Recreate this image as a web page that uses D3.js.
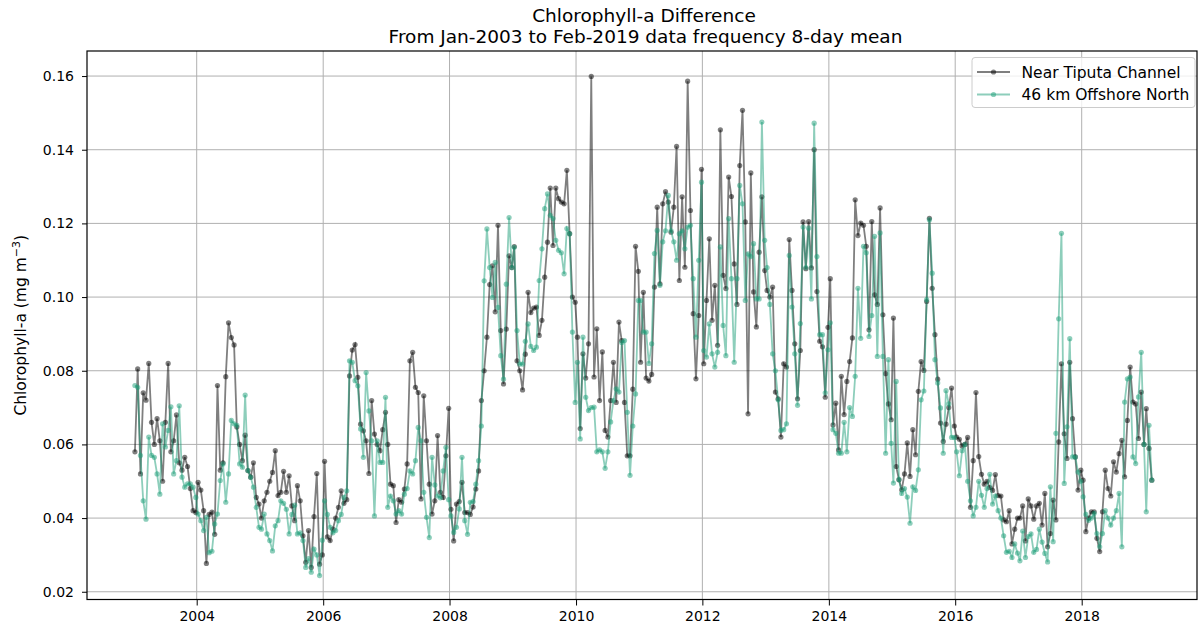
<!DOCTYPE html>
<html>
<head>
<meta charset="utf-8">
<script src="https://cdn.jsdelivr.net/npm/d3@7"></script>
<style>
  body { margin: 0; background: #fff; }
  text { font-family: "DejaVu Sans", sans-serif; fill: #000; }
</style>
</head>
<body>
<svg id="chart" width="1199" height="626"></svg>
<script>
// one row per year, samples every 16 days starting Jan 9
var years = [2003, 2004, 2005, 2006, 2007, 2008, 2009, 2010, 2011, 2012, 2013, 2014, 2015, 2016, 2017, 2018, 2019];

var nearTiputa = [
  [0.058, 0.0805, 0.052, 0.074, 0.072, 0.082, 0.066, 0.060, 0.067, 0.061, 0.050, 0.066, 0.082, 0.058, 0.061, 0.068, 0.055, 0.053, 0.0565, 0.054, 0.048, 0.042, 0.0415],
  [0.0497, 0.0476, 0.042, 0.0277, 0.041, 0.0416, 0.0356, 0.076, 0.053, 0.055, 0.0784, 0.093, 0.089, 0.087, 0.0647, 0.060, 0.0556, 0.0625, 0.0529, 0.0511, 0.055, 0.0456, 0.0438],
  [0.040, 0.0447, 0.047, 0.050, 0.0524, 0.0583, 0.0461, 0.047, 0.0527, 0.047, 0.0515, 0.0433, 0.0393, 0.0488, 0.0447, 0.0352, 0.028, 0.0366, 0.0266, 0.0404, 0.0521, 0.0275, 0.030],
  [0.0554, 0.0349, 0.0339, 0.037, 0.040, 0.0429, 0.0474, 0.044, 0.045, 0.0786, 0.0856, 0.0871, 0.0782, 0.0655, 0.0637, 0.061, 0.0521, 0.0719, 0.0628, 0.060, 0.0583, 0.064, 0.0687],
  [0.060, 0.0492, 0.0488, 0.0388, 0.045, 0.0443, 0.0479, 0.0547, 0.0827, 0.085, 0.0755, 0.0741, 0.0452, 0.0732, 0.061, 0.0492, 0.0411, 0.0447, 0.0624, 0.047, 0.0456, 0.0569, 0.0698],
  [0.0424, 0.0338, 0.0438, 0.0445, 0.0497, 0.0415, 0.0415, 0.041, 0.043, 0.0479, 0.0528, 0.0719, 0.080, 0.0891, 0.1034, 0.1085, 0.096, 0.1195, 0.0909, 0.0764, 0.0913, 0.1112, 0.108],
  [0.1137, 0.0827, 0.080, 0.0748, 0.0845, 0.1013, 0.0958, 0.097, 0.0973, 0.0896, 0.0937, 0.1054, 0.1149, 0.1296, 0.114, 0.1296, 0.1267, 0.1258, 0.1253, 0.1344, 0.1172, 0.100, 0.0986],
  [0.0891, 0.0643, 0.0846, 0.078, 0.0873, 0.1599, 0.0783, 0.0914, 0.0719, 0.0851, 0.0638, 0.062, 0.0719, 0.0823, 0.0714, 0.0932, 0.0882, 0.0714, 0.0569, 0.0569, 0.075, 0.1138, 0.107],
  [0.0823, 0.1013, 0.078, 0.0772, 0.079, 0.1027, 0.1244, 0.1036, 0.1253, 0.1286, 0.1258, 0.1176, 0.1244, 0.1409, 0.1045, 0.1272, 0.1081, 0.1586, 0.1235, 0.0955, 0.0778, 0.095, 0.1347],
  [0.0819, 0.0991, 0.1158, 0.0937, 0.1032, 0.0869, 0.1454, 0.1059, 0.1023, 0.1326, 0.1273, 0.109, 0.098, 0.1357, 0.1507, 0.1204, 0.0683, 0.1337, 0.1014, 0.0919, 0.1122, 0.1272, 0.1072],
  [0.1018, 0.100, 0.1027, 0.0742, 0.0724, 0.062, 0.0819, 0.081, 0.1156, 0.1018, 0.0873, 0.0724, 0.0855, 0.1204, 0.1077, 0.1205, 0.1079, 0.14, 0.1015, 0.088, 0.0865, 0.0728, 0.0918],
  [0.105, 0.0653, 0.0712, 0.0585, 0.0785, 0.0681, 0.0771, 0.0825, 0.0889, 0.1264, 0.1167, 0.1201, 0.1195, 0.1138, 0.0911, 0.1205, 0.1006, 0.098, 0.1242, 0.0952, 0.0792, 0.071, 0.0667],
  [0.0943, 0.054, 0.0504, 0.0477, 0.052, 0.0604, 0.0513, 0.064, 0.0572, 0.0744, 0.0825, 0.0801, 0.0988, 0.1214, 0.1024, 0.0898, 0.0777, 0.0658, 0.0608, 0.0655, 0.070, 0.0753, 0.065],
  [0.062, 0.0614, 0.0596, 0.060, 0.0619, 0.0429, 0.0556, 0.0741, 0.0567, 0.0519, 0.0492, 0.050, 0.0483, 0.0475, 0.0518, 0.0461, 0.046, 0.0395, 0.039, 0.042, 0.033, 0.037, 0.040],
  [0.040, 0.0433, 0.0338, 0.0452, 0.0433, 0.0397, 0.0433, 0.044, 0.0381, 0.0467, 0.0322, 0.0358, 0.0449, 0.0395, 0.0607, 0.0819, 0.0629, 0.0562, 0.0823, 0.067, 0.0566, 0.0476, 0.053],
  [0.0503, 0.0363, 0.040, 0.0417, 0.0417, 0.0345, 0.0309, 0.0417, 0.053, 0.048, 0.046, 0.0553, 0.0525, 0.0575, 0.0611, 0.0512, 0.0665, 0.081, 0.0715, 0.071, 0.0616, 0.0742, 0.060],
  [0.0697, 0.0589, 0.0503]
];

var offshoreNorth = [
  [0.076, 0.0755, 0.057, 0.0447, 0.0397, 0.062, 0.057, 0.0565, 0.052, 0.0465, 0.0656, 0.0593, 0.0638, 0.0702, 0.052, 0.0556, 0.0705, 0.0511, 0.0484, 0.0493, 0.0493, 0.0484, 0.0456],
  [0.0411, 0.0393, 0.0366, 0.0402, 0.0306, 0.031, 0.0384, 0.0411, 0.0502, 0.0547, 0.0443, 0.052, 0.0665, 0.0656, 0.0652, 0.0547, 0.0538, 0.0734, 0.0529, 0.0511, 0.0484, 0.0429, 0.0375],
  [0.037, 0.0411, 0.0357, 0.0339, 0.0311, 0.0379, 0.0393, 0.0447, 0.044, 0.0424, 0.0357, 0.041, 0.0435, 0.0357, 0.036, 0.0339, 0.0266, 0.029, 0.0253, 0.0316, 0.030, 0.0244, 0.034],
  [0.0447, 0.041, 0.0375, 0.036, 0.0366, 0.0393, 0.041, 0.0456, 0.0474, 0.0827, 0.0823, 0.0773, 0.0759, 0.0642, 0.0565, 0.0795, 0.0691, 0.061, 0.0406, 0.061, 0.0551, 0.0551, 0.0728],
  [0.0429, 0.046, 0.0447, 0.0411, 0.042, 0.0411, 0.0465, 0.048, 0.0528, 0.052, 0.0556, 0.0646, 0.061, 0.047, 0.0402, 0.0347, 0.0565, 0.049, 0.046, 0.0455, 0.0528, 0.0592, 0.045],
  [0.0406, 0.0361, 0.0375, 0.0425, 0.0565, 0.0393, 0.0356, 0.0443, 0.0445, 0.0492, 0.0556, 0.065, 0.1044, 0.1185, 0.108, 0.0999, 0.1094, 0.0972, 0.0841, 0.0777, 0.1035, 0.1216, 0.108],
  [0.1135, 0.0909, 0.0818, 0.0818, 0.088, 0.0927, 0.0866, 0.0855, 0.0864, 0.1045, 0.1131, 0.124, 0.128, 0.1222, 0.1213, 0.1154, 0.1127, 0.112, 0.1063, 0.1186, 0.1172, 0.0905, 0.0714],
  [0.0823, 0.0615, 0.0891, 0.0728, 0.0692, 0.070, 0.0701, 0.058, 0.0585, 0.058, 0.0535, 0.058, 0.0661, 0.0719, 0.0751, 0.0742, 0.0877, 0.0882, 0.0687, 0.0516, 0.065, 0.0737, 0.0991],
  [0.0991, 0.0905, 0.0905, 0.082, 0.0873, 0.1118, 0.1181, 0.1032, 0.115, 0.118, 0.1276, 0.118, 0.115, 0.11, 0.1172, 0.118, 0.1131, 0.119, 0.1195, 0.105, 0.0891, 0.11, 0.1312],
  [0.0855, 0.0837, 0.0927, 0.0846, 0.081, 0.085, 0.1136, 0.0923, 0.0841, 0.1213, 0.105, 0.0823, 0.105, 0.1303, 0.1253, 0.0991, 0.1117, 0.111, 0.1145, 0.0995, 0.0995, 0.1475, 0.1154],
  [0.108, 0.098, 0.0846, 0.080, 0.0721, 0.0638, 0.064, 0.0656, 0.1113, 0.0973, 0.0846, 0.0706, 0.0928, 0.119, 0.108, 0.1187, 0.0995, 0.1472, 0.111, 0.0898, 0.0898, 0.074, 0.0857],
  [0.093, 0.064, 0.063, 0.0576, 0.0576, 0.066, 0.058, 0.070, 0.0676, 0.0785, 0.1024, 0.0888, 0.1138, 0.112, 0.0893, 0.095, 0.1165, 0.0839, 0.1174, 0.0839, 0.0576, 0.083, 0.0603],
  [0.0495, 0.0771, 0.0505, 0.0467, 0.048, 0.0457, 0.0386, 0.0485, 0.0475, 0.0531, 0.0721, 0.0745, 0.0993, 0.121, 0.1065, 0.083, 0.0767, 0.0699, 0.0576, 0.0746, 0.071, 0.0619, 0.0619],
  [0.058, 0.0515, 0.0583, 0.060, 0.050, 0.0447, 0.0406, 0.0429, 0.050, 0.0462, 0.0429, 0.048, 0.0519, 0.0438, 0.046, 0.042, 0.040, 0.0352, 0.0307, 0.031, 0.0293, 0.033, 0.0305],
  [0.0284, 0.0365, 0.0293, 0.035, 0.0357, 0.0307, 0.0315, 0.037, 0.0335, 0.0304, 0.0281, 0.0485, 0.0336, 0.063, 0.0941, 0.1173, 0.0494, 0.0648, 0.0887, 0.0566, 0.0566, 0.0525, 0.050],
  [0.0458, 0.041, 0.0394, 0.040, 0.0413, 0.0358, 0.0322, 0.0358, 0.042, 0.040, 0.0381, 0.040, 0.042, 0.0467, 0.0322, 0.0715, 0.0778, 0.0783, 0.0566, 0.0548, 0.0729, 0.085, 0.06],
  [0.0417, 0.0652, 0.0503]
];

var seriesNames = ['Near Tiputa Channel', '46 km Offshore North'];
var seriesColors = ['#000000', '#1b9e77'];
var xTickYears = [2004, 2006, 2008, 2010, 2012, 2014, 2016, 2018];
var yTicks = [0.02, 0.04, 0.06, 0.08, 0.10, 0.12, 0.14, 0.16];

var margin = { left: 87, right: 1197, top: 51, bottom: 599.5 };

function toPoints(rows) {
  var pts = [];
  rows.forEach(function(row, yi) {
    row.forEach(function(v, i) {
      pts.push({ date: new Date(years[yi], 0, 9 + 16 * i), value: v });
    });
  });
  return pts;
}

var series = [toPoints(nearTiputa), toPoints(offshoreNorth)];

// place 2004 and 2018 where the reference has them, then extend to the frame
var ref = d3.scaleTime()
  .domain([new Date(2004, 0, 1), new Date(2018, 0, 1)])
  .range([196.7, 1081.7]);
var x = d3.scaleTime()
  .domain([ref.invert(margin.left), ref.invert(margin.right)])
  .range([margin.left, margin.right]);
var y = d3.scaleLinear()
  .domain([0.0179, 0.1668])
  .range([margin.bottom, margin.top]);

var svg = d3.select('#chart');

// grid
svg.append('g').selectAll('line')
  .data(xTickYears)
  .enter().append('line')
  .attr('x1', function(d) { return x(new Date(d, 0, 1)); })
  .attr('x2', function(d) { return x(new Date(d, 0, 1)); })
  .attr('y1', margin.top).attr('y2', margin.bottom)
  .attr('stroke', '#b0b0b0').attr('stroke-width', 1);
svg.append('g').selectAll('line')
  .data(yTicks)
  .enter().append('line')
  .attr('x1', margin.left).attr('x2', margin.right)
  .attr('y1', function(d) { return y(d); })
  .attr('y2', function(d) { return y(d); })
  .attr('stroke', '#b0b0b0').attr('stroke-width', 1);

var line = d3.line()
  .x(function(d) { return x(d.date); })
  .y(function(d) { return y(d.value); });

series.forEach(function(pts, si) {
  var g = svg.append('g');
  g.append('path')
    .datum(pts)
    .attr('d', line)
    .attr('fill', 'none')
    .attr('stroke', seriesColors[si])
    .attr('stroke-opacity', 0.5)
    .attr('stroke-width', 1.8);
  g.selectAll('circle')
    .data(pts)
    .enter().append('circle')
    .attr('cx', function(d) { return x(d.date); })
    .attr('cy', function(d) { return y(d.value); })
    .attr('r', 2.6)
    .attr('fill', seriesColors[si])
    .attr('fill-opacity', 0.5);
});

// axes
var xAxis = svg.append('g')
  .attr('transform', 'translate(0,' + margin.bottom + ')')
  .call(d3.axisBottom(x)
    .tickValues(xTickYears.map(function(d) { return new Date(d, 0, 1); }))
    .tickFormat(d3.timeFormat('%Y'))
    .tickSize(6).tickPadding(6).tickSizeOuter(0));
var yAxis = svg.append('g')
  .attr('transform', 'translate(' + margin.left + ',0)')
  .call(d3.axisLeft(y)
    .tickValues(yTicks)
    .tickFormat(d3.format('.2f'))
    .tickSize(5).tickPadding(8).tickSizeOuter(0));
[xAxis, yAxis].forEach(function(a) {
  a.select('.domain').remove();
  a.selectAll('text').attr('font-size', 14).attr('font-family', 'DejaVu Sans');
  a.selectAll('line').attr('stroke', '#000');
});

// frame
svg.append('rect')
  .attr('x', margin.left).attr('y', margin.top)
  .attr('width', margin.right - margin.left)
  .attr('height', margin.bottom - margin.top)
  .attr('fill', 'none').attr('stroke', '#000').attr('stroke-width', 1.2);

// titles
svg.append('text').attr('x', 644).attr('y', 21.5)
  .attr('text-anchor', 'middle').attr('font-size', 18.5)
  .text('Chlorophyll-a Difference');
svg.append('text').attr('x', 645.5).attr('y', 42.5)
  .attr('text-anchor', 'middle').attr('font-size', 18.5)
  .text('From Jan-2003 to Feb-2019 data frequency 8-day mean');

var ylab = svg.append('text')
  .attr('transform', 'translate(26,' + ((margin.top + margin.bottom) / 2) + ') rotate(-90)')
  .attr('text-anchor', 'middle').attr('font-size', 15.5);
ylab.append('tspan').text('Chlorophyll-a (mg m');
ylab.append('tspan').attr('dy', -6.5).attr('font-size', 11).text('\u22123');
ylab.append('tspan').attr('dy', 6.5).text(')');

// legend
var lg = svg.append('g');
lg.append('rect')
  .attr('x', 972).attr('y', 57.5).attr('width', 223).attr('height', 50).attr('rx', 3)
  .attr('fill', '#fff').attr('fill-opacity', 0.8)
  .attr('stroke', '#cccccc').attr('stroke-width', 1);
seriesNames.forEach(function(name, i) {
  var cy = 72 + i * 22.5;
  lg.append('line')
    .attr('x1', 977).attr('x2', 1010).attr('y1', cy).attr('y2', cy)
    .attr('stroke', seriesColors[i]).attr('stroke-opacity', 0.5).attr('stroke-width', 1.8);
  lg.append('circle').attr('cx', 993.5).attr('cy', cy).attr('r', 2.6)
    .attr('fill', seriesColors[i]).attr('fill-opacity', 0.5);
  lg.append('text').attr('x', 1021.5).attr('y', cy + 5.5).attr('font-size', 15.5).text(name);
});
</script>
</body>
</html>
